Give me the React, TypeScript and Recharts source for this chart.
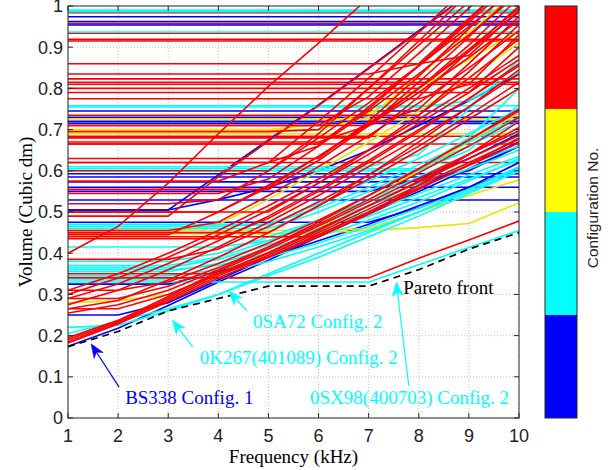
import React from 'react';
import { LineChart, Line, XAxis, YAxis, CartesianGrid } from 'recharts';

// ---------------- data ----------------
const FREQ = [1, 2, 3, 4, 5, 6, 7, 8, 9, 10];
const X_TICKS = [1, 2, 3, 4, 5, 6, 7, 8, 9, 10];
const Y_TICKS = [0, 0.1, 0.2, 0.3, 0.4, 0.5, 0.6, 0.7, 0.8, 0.9, 1];

const PARETO = [0.173, 0.21, 0.26, 0.29, 0.32, 0.32, 0.32, 0.36, 0.41, 0.45];

// designs whose volume stays constant over the whole band (one value each)
const CFG1_FLAT = [0.974, 0.962, 0.954, 0.745, 0.73, 0.72, 0.715, 0.593, 0.585, 0.56, 0.529];
const CFG2_FLAT = [0.99, 0.986, 0.937, 0.758];
const CFG3_FLAT = [0.726, 0.69];
const CFG4_FLAT = [0.984, 0.957, 0.934, 0.919, 0.915, 0.823, 0.815, 0.81, 0.62, 0.665, 0.684];

// designs whose volume varies with frequency (values at 1..10 kHz)
const CFG4_RISING = [
  [0.40, 0.465, 0.57, 0.69, 0.805, 0.91, 1.02, 1.1, 1.1, 1.1],
  [0.31, 0.35, 0.40, 0.455, 0.515, 0.58, 0.65, 0.725, 0.80, 0.88],
  [0.30, 0.34, 0.39, 0.445, 0.505, 0.57, 0.64, 0.715, 0.79, 0.87],
  [0.29, 0.325, 0.375, 0.43, 0.49, 0.555, 0.625, 0.70, 0.775, 0.855],
  [0.275, 0.31, 0.36, 0.415, 0.475, 0.54, 0.61, 0.68, 0.755, 0.835],
  [0.265, 0.285, 0.335, 0.39, 0.45, 0.515, 0.58, 0.65, 0.725, 0.80],
  [0.255, 0.275, 0.31, 0.36, 0.415, 0.475, 0.54, 0.605, 0.675, 0.745],
  [0.445, 0.445, 0.445, 0.50, 0.565, 0.635, 0.71, 0.79, 0.875, 0.965],
  [0.455, 0.455, 0.455, 0.475, 0.54, 0.61, 0.685, 0.765, 0.85, 0.94],
  [0.49, 0.49, 0.49, 0.585, 0.672, 0.758, 0.848, 0.938, 1.03, 1.1],
  [0.50, 0.50, 0.50, 0.50, 0.56, 0.635, 0.715, 0.80, 0.89, 0.985],
  [0.52, 0.52, 0.52, 0.53, 0.60, 0.68, 0.765, 0.855, 0.95, 1.05],
  [0.545, 0.545, 0.545, 0.545, 0.58, 0.66, 0.745, 0.835, 0.93, 1.03],
  [0.555, 0.555, 0.555, 0.555, 0.555, 0.625, 0.71, 0.80, 0.895, 0.995],
  [0.62, 0.62, 0.62, 0.62, 0.62, 0.66, 0.755, 0.855, 0.96, 1.07],
  [0.665, 0.665, 0.665, 0.665, 0.665, 0.665, 0.75, 0.855, 0.965, 1.08],
  [0.67, 0.67, 0.67, 0.67, 0.67, 0.67, 0.71, 0.815, 0.925, 1.04],
  [0.68, 0.68, 0.68, 0.68, 0.68, 0.68, 0.68, 0.78, 0.89, 1.0],
  [0.71, 0.71, 0.71, 0.71, 0.71, 0.71, 0.71, 0.75, 0.86, 0.975],
  [0.735, 0.735, 0.735, 0.735, 0.735, 0.735, 0.735, 0.735, 0.84, 0.955],
  [0.775, 0.775, 0.775, 0.775, 0.775, 0.775, 0.775, 0.775, 0.81, 0.93],
  [0.79, 0.79, 0.79, 0.79, 0.79, 0.79, 0.79, 0.79, 0.79, 0.90],
  [0.80, 0.80, 0.80, 0.80, 0.80, 0.80, 0.80, 0.80, 0.905, 1.02],
  [0.695, 0.695, 0.695, 0.695, 0.695, 0.70, 0.80, 0.905, 1.01, 1.1],
  [0.50, 0.50, 0.50, 0.50, 0.50, 0.57, 0.65, 0.735, 0.825, 0.92],
  [0.45, 0.45, 0.45, 0.45, 0.45, 0.515, 0.59, 0.67, 0.755, 0.845],
  [0.435, 0.435, 0.435, 0.435, 0.485, 0.55, 0.62, 0.695, 0.775, 0.86],
  [0.44, 0.44, 0.44, 0.44, 0.44, 0.44, 0.495, 0.565, 0.64, 0.72],
  [0.35, 0.35, 0.35, 0.35, 0.39, 0.44, 0.495, 0.555, 0.615, 0.68],
  [0.34, 0.34, 0.34, 0.34, 0.34, 0.34, 0.34, 0.388, 0.432, 0.478],
  [0.265, 0.265, 0.30, 0.35, 0.40, 0.455, 0.515, 0.575, 0.64, 0.705],
  [0.60, 0.60, 0.60, 0.60, 0.60, 0.69, 0.80, 0.915, 1.03, 1.1],
  [0.575, 0.575, 0.575, 0.575, 0.62, 0.72, 0.825, 0.935, 1.05, 1.1],
  [0.86, 0.86, 0.86, 0.86, 0.86, 0.86, 0.86, 0.86, 0.88, 0.99],
  [0.835, 0.835, 0.835, 0.835, 0.835, 0.835, 0.835, 0.86, 0.97, 1.08],
  [0.63, 0.63, 0.63, 0.63, 0.63, 0.63, 0.72, 0.83, 0.945, 1.06],
  [0.71, 0.71, 0.71, 0.71, 0.71, 0.71, 0.78, 0.885, 0.995, 1.1],
  [0.385, 0.385, 0.385, 0.41, 0.465, 0.525, 0.59, 0.66, 0.735, 0.815],
  [0.31, 0.31, 0.33, 0.375, 0.425, 0.48, 0.54, 0.605, 0.675, 0.75],
  [0.29, 0.29, 0.32, 0.365, 0.415, 0.47, 0.53, 0.595, 0.66, 0.73],
  [0.182, 0.228, 0.283, 0.34, 0.39, 0.445, 0.50, 0.558, 0.613, 0.668],
  [0.185, 0.231, 0.287, 0.345, 0.395, 0.45, 0.507, 0.565, 0.62, 0.676],
  [0.19, 0.234, 0.291, 0.35, 0.402, 0.458, 0.515, 0.573, 0.63, 0.686],
  [0.195, 0.237, 0.295, 0.356, 0.41, 0.466, 0.524, 0.582, 0.64, 0.697],
];

const CFG2_RISING = [
  [0.205, 0.235, 0.265, 0.30, 0.345, 0.39, 0.44, 0.49, 0.545, 0.60],
  [0.22, 0.225, 0.26, 0.30, 0.35, 0.40, 0.45, 0.50, 0.555, 0.61],
  [0.33, 0.33, 0.33, 0.33, 0.33, 0.33, 0.33, 0.372, 0.414, 0.455],
  [0.355, 0.355, 0.355, 0.375, 0.41, 0.45, 0.49, 0.535, 0.58, 0.625],
  [0.365, 0.365, 0.365, 0.385, 0.42, 0.46, 0.50, 0.545, 0.59, 0.635],
  [0.37, 0.37, 0.37, 0.39, 0.43, 0.47, 0.515, 0.56, 0.605, 0.65],
  [0.38, 0.38, 0.38, 0.40, 0.44, 0.48, 0.525, 0.57, 0.615, 0.66],
  [0.415, 0.415, 0.415, 0.415, 0.43, 0.48, 0.53, 0.585, 0.64, 0.695],
  [0.335, 0.335, 0.335, 0.35, 0.38, 0.415, 0.455, 0.50, 0.55, 0.60],
  [0.46, 0.46, 0.46, 0.46, 0.46, 0.50, 0.55, 0.605, 0.66, 0.72],
  [0.47, 0.47, 0.47, 0.47, 0.47, 0.52, 0.575, 0.63, 0.69, 0.75],
  [0.465, 0.465, 0.465, 0.465, 0.47, 0.51, 0.56, 0.615, 0.67, 0.73],
  [0.61, 0.61, 0.61, 0.61, 0.61, 0.61, 0.61, 0.64, 0.75, 0.87],
  [0.605, 0.605, 0.605, 0.605, 0.605, 0.605, 0.605, 0.605, 0.68, 0.80],
  [0.60, 0.60, 0.60, 0.60, 0.60, 0.60, 0.60, 0.60, 0.65, 0.76],
  [0.755, 0.755, 0.755, 0.755, 0.755, 0.755, 0.755, 0.755, 0.77, 0.84],
  [0.36, 0.36, 0.36, 0.37, 0.40, 0.44, 0.48, 0.525, 0.575, 0.63],
  [0.345, 0.345, 0.345, 0.36, 0.39, 0.425, 0.465, 0.51, 0.555, 0.605],
];

const CFG3_RISING = [
  [0.28, 0.285, 0.30, 0.35, 0.40, 0.46, 0.53, 0.60, 0.67, 0.74],
  [0.447, 0.447, 0.447, 0.447, 0.447, 0.45, 0.455, 0.462, 0.472, 0.522],
  [0.455, 0.455, 0.455, 0.455, 0.455, 0.455, 0.46, 0.50, 0.54, 0.578],
  [0.70, 0.70, 0.70, 0.70, 0.70, 0.713, 0.74, 0.80, 0.87, 0.94],
  [0.45, 0.45, 0.45, 0.47, 0.53, 0.60, 0.67, 0.745, 0.825, 0.91],
  [0.70, 0.70, 0.70, 0.70, 0.70, 0.70, 0.73, 0.83, 0.935, 1.04],
];

const CFG1_RISING = [
  [0.174, 0.218, 0.273, 0.33, 0.383, 0.44, 0.495, 0.55, 0.605, 0.66], // BS338
  [0.505, 0.505, 0.505, 0.59, 0.675, 0.76, 0.85, 0.94, 1.03, 1.1],
  [0.505, 0.505, 0.505, 0.53, 0.56, 0.60, 0.65, 0.71, 0.77, 0.835],
  [0.475, 0.475, 0.475, 0.475, 0.475, 0.475, 0.475, 0.51, 0.56, 0.62],
  [0.25, 0.25, 0.28, 0.335, 0.39, 0.445, 0.50, 0.56, 0.615, 0.67],
  [0.325, 0.325, 0.325, 0.355, 0.39, 0.43, 0.47, 0.515, 0.56, 0.605],
  [0.55, 0.55, 0.55, 0.55, 0.55, 0.55, 0.55, 0.58, 0.63, 0.69],
  [0.573, 0.573, 0.573, 0.573, 0.573, 0.573, 0.573, 0.575, 0.60, 0.66],
];

const CONFIG_COLORS = ['#0000FF', '#00FFFF', '#E6E600', '#FF0000']; // config 1..4
const COLORBAR_COLORS = ['#FF0000', '#FFFF00', '#00FFFF', '#0000FF']; // top to bottom

type Ann = { text: string; color: string; at: [number, number]; tail?: [number, number]; tip?: [number, number] };
const ANNOTATIONS: Ann[] = [
  { text: 'BS338 Config. 1', color: '#0000FF', at: [2.14, 0.034], tail: [2.02, 0.075], tip: [1.46, 0.18] },
  { text: '0K267(401089) Config. 2', color: '#00FFFF', at: [3.63, 0.13], tail: [3.49, 0.172], tip: [3.08, 0.238] },
  { text: '0SA72 Config. 2', color: '#00FFFF', at: [4.69, 0.218], tail: [4.57, 0.26], tip: [4.21, 0.308] },
  { text: 'Pareto front', color: '#000000', at: [7.69, 0.302] },
  { text: '0SX98(400703) Config. 2', color: '#00FFFF', at: [5.83, 0.034], tail: [7.8, 0.078], tip: [7.55, 0.33] },
];

// ---------------- layout ----------------
const W = 611;
const H = 470;
const PL = 68, PT = 6, PR = 519, PB = 418;
const X_MIN = 1, X_MAX = 10, Y_MIN = 0, Y_MAX = 1;
const px = (f: number) => PL + ((f - X_MIN) / (X_MAX - X_MIN)) * (PR - PL);
const py = (v: number) => PB - ((v - Y_MIN) / (Y_MAX - Y_MIN)) * (PB - PT);

type Series = { key: string; color: string; values: number[] };
const series: Series[] = [];
const addFlat = (arr: number[], cfg: number) =>
  arr.forEach((v, i) => series.push({ key: `flat${cfg}_${i}`, color: CONFIG_COLORS[cfg - 1], values: FREQ.map(() => v) }));
const addRising = (arr: number[][], cfg: number) =>
  arr.forEach((vals, i) => series.push({ key: `rise${cfg}_${i}`, color: CONFIG_COLORS[cfg - 1], values: vals }));

addFlat(CFG4_FLAT, 4);
addFlat(CFG1_FLAT, 1);
addFlat(CFG2_FLAT, 2);
addFlat(CFG3_FLAT, 3);
addRising(CFG1_RISING, 1);
addRising(CFG3_RISING, 3);
addRising(CFG2_RISING, 2);
addRising(CFG4_RISING, 4);

const rows = FREQ.map((f, i) => {
  const r: Record<string, number> = { f, pareto: PARETO[i] };
  series.forEach((s) => (r[s.key] = s.values[i]));
  return r;
});

const SERIF = "'Liberation Serif', 'Times New Roman', serif";
const SANS = "'Liberation Sans', Arial, sans-serif";

function Arrow({ tail, tip, color }: { tail: [number, number]; tip: [number, number]; color: string }) {
  const x0 = px(tail[0]), y0 = py(tail[1]);
  const x1 = px(tip[0]), y1 = py(tip[1]);
  const dx = x1 - x0, dy = y1 - y0;
  const len = Math.hypot(dx, dy);
  const ux = dx / len, uy = dy / len;
  const nx = -uy, ny = ux;
  const L = 14, Wd = 5.5, N = 10;
  const bx = x1 - ux * L, by = y1 - uy * L;
  const mx = x1 - ux * N, my = y1 - uy * N;
  const pts = [
    [x1, y1],
    [bx + nx * Wd, by + ny * Wd],
    [mx, my],
    [bx - nx * Wd, by - ny * Wd],
  ]
    .map((p) => p.join(','))
    .join(' ');
  return (
    <g>
      <line x1={x0} y1={y0} x2={mx} y2={my} stroke={color} strokeWidth={1.2} />
      <polygon points={pts} fill={color} stroke={color} strokeWidth={0.5} />
    </g>
  );
}

export default function App() {
  const segH = (PB - PT) / COLORBAR_COLORS.length;
  return (
    <div style={{ position: 'absolute', left: 0, top: 0, width: W, height: H, background: '#fff' }}>
      <LineChart
        width={W}
        height={H}
        data={rows}
        margin={{ top: PT, right: W - PR, bottom: H - PB - 30, left: PL - 60 }}
      >
        <CartesianGrid stroke="#c4c4c4" strokeDasharray="1 2" />
        <XAxis
          dataKey="f"
          type="number"
          domain={[X_MIN, X_MAX]}
          ticks={X_TICKS}
          interval={0}
          allowDataOverflow
          axisLine={false}
          tickLine={false}
          tickSize={0}
          tickMargin={11}
          height={30}
          tick={{ fontSize: 18, fill: '#222', fontFamily: SANS }}
        />
        <YAxis
          type="number"
          domain={[Y_MIN, Y_MAX]}
          ticks={Y_TICKS}
          interval={0}
          allowDataOverflow
          axisLine={false}
          tickLine={false}
          tickSize={0}
          tickMargin={5}
          width={60}
          tickFormatter={(v: number) => (v === 0 ? '0' : v === 1 ? '1' : v.toFixed(1))}
          tick={{ fontSize: 18, fill: '#222', fontFamily: SANS }}
        />
        {series.map((s) => (
          <Line
            key={s.key}
            dataKey={s.key}
            stroke={s.color}
            strokeWidth={1.6}
            dot={false}
            activeDot={false}
            isAnimationActive={false}
            type="linear"
          />
        ))}
        <Line
          dataKey="pareto"
          stroke="#000"
          strokeWidth={1.7}
          strokeDasharray="7 5"
          dot={false}
          activeDot={false}
          isAnimationActive={false}
          type="linear"
        />
      </LineChart>
      <svg
        width={W}
        height={H}
        style={{ position: 'absolute', left: 0, top: 0, pointerEvents: 'none' }}
      >
        {/* axes box with inward ticks */}
        <rect x={PL} y={PT} width={PR - PL} height={PB - PT} fill="none" stroke="#262626" strokeWidth={1} />
        {X_TICKS.map((t) => (
          <g key={'xt' + t}>
            <line x1={px(t)} x2={px(t)} y1={PB} y2={PB - 5} stroke="#262626" />
            <line x1={px(t)} x2={px(t)} y1={PT} y2={PT + 5} stroke="#262626" />
          </g>
        ))}
        {Y_TICKS.map((t) => (
          <g key={'yt' + t}>
            <line x1={PL} x2={PL + 5} y1={py(t)} y2={py(t)} stroke="#262626" />
            <line x1={PR} x2={PR - 5} y1={py(t)} y2={py(t)} stroke="#262626" />
          </g>
        ))}
        {/* axis titles */}
        <text x={(PL + PR) / 2} y={463} textAnchor="middle" fontFamily={SERIF} fontSize={19} fill="#000">
          Frequency (kHz)
        </text>
        <text
          x={31.5}
          y={(PT + PB) / 2}
          textAnchor="middle"
          transform={`rotate(-90 31.5 ${(PT + PB) / 2})`}
          fontFamily={SERIF}
          fontSize={19}
          fill="#000"
        >
          Volume (Cubic dm)
        </text>
        {/* annotations */}
        {ANNOTATIONS.map((a) => (
          <g key={a.text}>
            {a.tail && a.tip && <Arrow tail={a.tail} tip={a.tip} color={a.color} />}
            <text x={px(a.at[0])} y={py(a.at[1])} fontFamily={SERIF} fontSize={19} fill={a.color}>
              {a.text}
            </text>
          </g>
        ))}
        {/* colorbar */}
        {COLORBAR_COLORS.map((c, i) => (
          <rect key={c} x={545} y={PT + i * segH} width={32} height={segH} fill={c} />
        ))}
        <rect x={545} y={PT} width={32} height={PB - PT} fill="none" stroke="#262626" strokeWidth={1} />
        <text
          x={598}
          y={208}
          textAnchor="middle"
          transform={`rotate(-90 598 208)`}
          fontFamily={SANS}
          fontSize={15.5}
          fill="#222"
        >
          Configuration No.
        </text>
      </svg>
    </div>
  );
}
